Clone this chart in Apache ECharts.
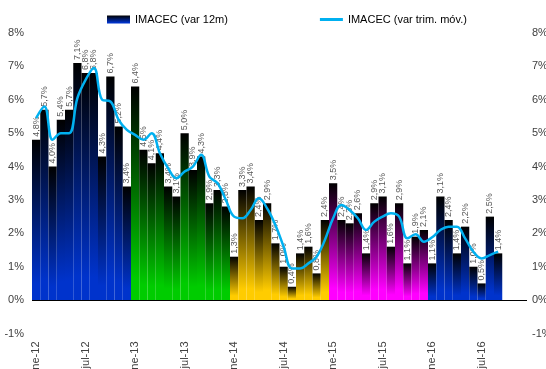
<!DOCTYPE html>
<html>
<head>
<meta charset="utf-8">
<script src="https://cdn.jsdelivr.net/npm/echarts@6/dist/echarts.min.js"></script>
<style>
  html, body { margin: 0; padding: 0; background: #fff; }
  #chart { width: 546px; height: 369px; }
</style>
</head>
<body>
<div id="chart"></div>
<script>
// meses ene-12 .. dic-16
const categories = [
  'ene-12','feb-12','mar-12','abr-12','may-12','jun-12','jul-12','ago-12','sep-12','oct-12','nov-12','dic-12',
  'ene-13','feb-13','mar-13','abr-13','may-13','jun-13','jul-13','ago-13','sep-13','oct-13','nov-13','dic-13',
  'ene-14','feb-14','mar-14','abr-14','may-14','jun-14','jul-14','ago-14','sep-14','oct-14','nov-14','dic-14',
  'ene-15','feb-15','mar-15','abr-15','may-15','jun-15','jul-15','ago-15','sep-15','oct-15','nov-15','dic-15',
  'ene-16','feb-16','mar-16','abr-16','may-16','jun-16','jul-16','ago-16','sep-16','oct-16','nov-16','dic-16'
];

// IMACEC var 12m, por año
const var12m2012 = [4.8, 5.7, 4.0, 5.4, 5.7, 7.1, 6.8, 6.8, 4.3, 6.7, 5.2, 3.4];
const var12m2013 = [6.4, 4.5, 4.1, 4.4, 3.4, 3.1, 5.0, 3.9, 4.3, 2.9, 3.3, 2.8];
const var12m2014 = [1.3, 3.3, 3.4, 2.4, 2.9, 1.7, 1.0, 0.4, 1.4, 1.6, 0.8, 2.4];
const var12m2015 = [3.5, 2.4, 2.3, 2.6, 1.4, 2.9, 3.1, 1.6, 2.9, 1.1, 1.9, 2.1];
const var12m2016 = [1.1, 3.1, 2.4, 1.4, 2.2, 1.0, 0.5, 2.5, 1.4];

// IMACEC var trim. móvil
const trim2012 = [5.45, 5.8, 4.8, 5.0, 5.0, 6.05, 6.6, 6.95, 6.0, 5.95, 5.4, 5.1];
const trim2013 = [4.95, 4.8, 5.0, 4.4, 3.95, 3.65, 3.85, 4.0, 4.35, 3.7, 3.5, 3.0];
const trim2014 = [2.5, 2.45, 2.7, 3.05, 2.75, 2.25, 1.6, 0.95, 0.95, 1.1, 1.3, 1.8];
const trim2015 = [2.45, 2.85, 2.7, 2.45, 2.1, 2.35, 2.5, 2.6, 2.5, 1.85, 1.97, 1.75];
const trim2016 = [1.88, 2.1, 2.2, 2.2, 1.85, 1.45, 1.25, 1.35, 1.45];

const yearColors = ['#0033cc', '#00cc00', '#ffcc00', '#ff00ff', '#0033cc'];
const yTicks = { min: -1, max: 8, interval: 1 };

const chart = echarts.init(document.getElementById('chart'));

function gradient(c) {
    return new echarts.graphic.LinearGradient(0, 0, 0, 1, [
        { offset: 0, color: '#000000' },
        { offset: 0.9, color: c },
        { offset: 1, color: c }
    ]);
}

const barYears = [var12m2012, var12m2013, var12m2014, var12m2015, var12m2016];
const barData = [];
barYears.forEach(function (arr, y) {
    arr.forEach(function (v) {
        barData.push({ value: v, itemStyle: { color: gradient(yearColors[y]) } });
    });
});
const lineData = [].concat(trim2012, trim2013, trim2014, trim2015, trim2016);

const fmt = function (v) { return v.toFixed(1).replace('.', ',') + '%'; };
const font = "'Liberation Sans', Arial, sans-serif";

const option = {
    animation: false,
    legend: {
        left: 102,
        top: 9,
        itemGap: 92,
        itemWidth: 23,
        itemHeight: 8,
        textStyle: { fontFamily: font, fontSize: 11, color: '#000' },
        data: [
            { name: 'IMACEC (var 12m)', icon: 'rect' },
            { name: 'IMACEC (var trim. móv.)', icon: 'path://M0,0H23V3H0Z' }
        ]
    },
    grid: { left: 32, right: 19, top: 33, bottom: 35.5, outerBoundsMode: 'none' },
    xAxis: {
        type: 'category',
        data: categories,
        axisLine: { show: false, onZero: false },
        axisTick: { show: false },
        axisLabel: {
            interval: 5,
            rotate: 90,
            margin: 8,
            fontFamily: font,
            fontSize: 11,
            color: '#404040'
        }
    },
    yAxis: [
        {
            type: 'value',
            min: yTicks.min, max: yTicks.max, interval: yTicks.interval,
            splitLine: { show: false },
            axisLabel: { formatter: '{value}%', fontFamily: font, fontSize: 11, color: '#404040', margin: 8 }
        },
        {
            type: 'value',
            position: 'right',
            min: yTicks.min, max: yTicks.max, interval: yTicks.interval,
            splitLine: { show: false },
            axisLabel: { formatter: '{value}%', fontFamily: font, fontSize: 11, color: '#404040', margin: 5 }
        }
    ],
    series: [
        {
            name: 'IMACEC (var 12m)',
            type: 'bar',
            data: barData,
            barCategoryGap: '0%',
            itemStyle: { color: gradient('#0033cc') },
            label: {
                show: true,
                position: 'top',
                rotate: 90,
                align: 'left',
                verticalAlign: 'middle',
                distance: 3,
                fontFamily: font,
                fontSize: 9,
                color: '#595959',
                formatter: function (p) { return fmt(p.value); }
            },
            markLine: {
                silent: true,
                symbol: ['none', 'none'],
                label: { show: false },
                lineStyle: { color: '#000', width: 1, type: 'solid' },
                data: [{ yAxis: 0 }]
            }
        },
        {
            name: 'IMACEC (var trim. móv.)',
            type: 'line',
            data: lineData,
            smooth: 0.4,
            symbol: 'none',
            z: 5,
            lineStyle: { color: '#00b0f0', width: 2.5 },
            itemStyle: { color: '#00b0f0' }
        }
    ]
};

chart.setOption(option);
</script>
</body>
</html>
